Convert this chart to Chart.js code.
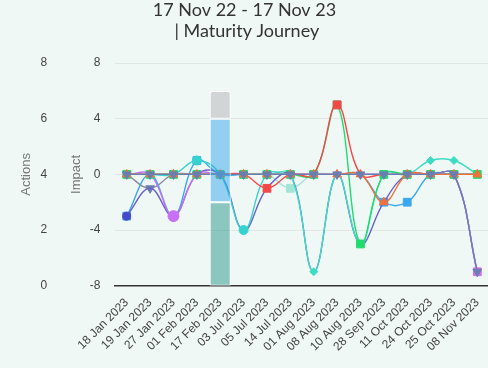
<!DOCTYPE html>
<html>
<head>
<meta charset="utf-8">
<script src="https://cdn.jsdelivr.net/npm/chart.js@4.4.0/dist/chart.umd.min.js"></script>
<style>
  html, body { margin: 0; padding: 0; background: #f0f8f6; overflow: hidden; }
  #wrap { width: 498px; height: 368px; }
</style>
</head>
<body>
<div id="wrap"><canvas id="journey"></canvas></div>
<script>
var labels = ['18 Jan 2023', '19 Jan 2023', '27 Jan 2023', '01 Feb 2023', '17 Feb 2023', '03 Jul 2023', '05 Jul 2023', '14 Jul 2023',
  '01 Aug 2023', '08 Aug 2023', '10 Aug 2023', '28 Sep 2023', '11 Oct 2023', '24 Oct 2023', '25 Oct 2023', '08 Nov 2023'];

// actions (stacked bar, left outer axis)
var actionsDone    = [null, null, null, null, 3, null, null, null, null, null, null, null, null, null, null, null];
var actionsOpen    = [null, null, null, null, 3, null, null, null, null, null, null, null, null, null, null, null];
var actionsPending = [null, null, null, null, 1, null, null, null, null, null, null, null, null, null, null, null];

// impact lines
var impactSlate   = [0, 0, 0, 0, 0, 0, 0, 0, 0, 0, 0, 0, 0, 0, 0, -7];
var impactOrange  = [0, 0, 0, 0, 0, 0, 0, 0, 0, 0, 0, -2, 0, 0, 0, 0];
var impactRed     = [0, 0, 0, 0, 0, 0, -1, 0, 0, 5, 0, 0, 0, 0, 0, 0];
var impactGreen   = [0, 0, 0, 0, 0, 0, 0, 0, 0, 5, -5, 0, 0, 0, 0, 0];
var impactMagenta = [0, 0, 0, 0, 0, 0, 0, 0, 0, 0, 0, 0, 0, 0, 0, -7];
var impactPurple  = [0, 0, -3, 0, 0, 0, 0, 0, 0, 0, 0, 0, 0, 0, 0, 0];
var impactCyan    = [0, 0, 0, 1, 0, -4, 0, 0, 0, 0, 0, 0, 0, 0, 0, 0];
var impactTeal    = [0, 0, 0, 0, 0, 0, 0, 0, -7, 0, -5, 0, 0, 1, 1, 0];
var impactIndigo  = [-3, -1, -3, 0, 0, -4, -1, 0, -7, 0, -5, -2, 0, 0, 0, -7];
var impactBlue    = [-3, 0, -3, 1, 0, 0, 0, 0, 0, 0, 0, -2, -2, 0, 0, 0];
var impactMint    = [0, 0, 0, 0, 0, 0, 0, -1, 0, 0, 0, 0, 0, 0, 0, 0];
var impactGray    = [0, -1, 0, 0, 0, 0, 0, 0, 0, 0, 0, 0, 0, 0, 0, 0];

function hideZero(r) {
  return function (ctx) { return ctx.raw === 0 ? 0 : r; };
}

function lineSet(name, data, color, style, radius, extra) {
  var ds = {
    type: 'line', label: name, data: data, yAxisID: 'impact',
    borderColor: color, backgroundColor: color, pointBackgroundColor: color, pointBorderColor: color,
    borderWidth: 1.4, tension: 0.4, pointStyle: style, pointRadius: radius, pointBorderWidth: 1, order: 1
  };
  for (var k in extra) ds[k] = extra[k];
  return ds;
}

function barSet(name, data, color, extra) {
  var ds = {
    type: 'bar', label: name, data: data, yAxisID: 'actions', stack: 'actions',
    backgroundColor: color, borderColor: '#ffffff', borderWidth: 1, borderSkipped: false,
    barPercentage: 0.9, categoryPercentage: 1, order: 0
  };
  for (var k in extra) ds[k] = extra[k];
  return ds;
}

var dataJourney = {
  labels: labels,
  datasets: [
    barSet('Done', actionsDone, 'rgba(40,150,135,0.5)'),
    barSet('Open', actionsOpen, 'rgba(54,165,235,0.5)'),
    barSet('Pending', actionsPending, 'rgba(190,190,192,0.6)', { borderRadius: { topLeft: 3, topRight: 3 } }),
    lineSet('Slate', impactSlate, '#6b7eb1', 'triangle', 5, { rotation: 180 }),
    lineSet('Orange', impactOrange, '#f2703a', 'triangle', 5),
    lineSet('Red', impactRed, '#f44848', 'rect', hideZero(5.5)),
    lineSet('Green', impactGreen, '#1fdc6e', 'rect', 5.5),
    lineSet('Magenta', impactMagenta, '#d66cf2', 'rect', hideZero(5.5)),
    lineSet('Purple', impactPurple, '#c870f5', 'circle', hideZero(5.5)),
    lineSet('Cyan', impactCyan, '#35d2d0', 'circle', hideZero(4.5)),
    lineSet('Teal', impactTeal, '#3fdcc4', 'rectRot', hideZero(4)),
    lineSet('Indigo', impactIndigo, '#6a62cc', 'circle', function (ctx) { return ctx.dataIndex === 0 ? 4 : 0; },
      { pointBackgroundColor: '#4549c9', pointBorderColor: '#4549c9' }),
    lineSet('Blue', impactBlue, '#3aa8f0', 'rect', hideZero(5.5)),
    lineSet('Mint', impactMint, '#a3e4d6', 'rect', hideZero(5.5)),
    lineSet('Gray', impactGray, '#8a8d98', 'triangle', hideZero(5), { rotation: 180, pointBackgroundColor: '#6b7eb1', pointBorderColor: '#6b7eb1' })
  ]
};

var tickFont = { family: "'Liberation Sans', Arial, sans-serif", size: 12 };
var axisTitleFont = { family: "'Liberation Sans', Arial, sans-serif", size: 13 };

var optionsJourney = {
  responsive: true,
  maintainAspectRatio: false,
  animation: false,
  layout: { padding: { left: 0, right: 9, top: 0, bottom: 12 } },
  plugins: {
    legend: { display: false },
    tooltip: { enabled: false },
    title: {
      display: true,
      text: ['17 Nov 22 - 17 Nov 23', ' | Maturity Journey'],
      color: '#333333',
      font: { family: "Lato, 'Open Sans', sans-serif", size: 18, weight: 'normal', lineHeight: 1.17 },
      padding: { top: 0, bottom: 21 }
    }
  },
  scales: {
    x: {
      stacked: true,
      grid: { display: false },
      border: { color: '#333333', width: 1.5 },
      ticks: { color: '#444444', font: tickFont, minRotation: 45, maxRotation: 45, padding: 2, autoSkip: false }
    },
    actions: {
      type: 'linear', position: 'left', weight: 1, stacked: true,
      min: 0, max: 8,
      ticks: { stepSize: 2, color: '#444444', font: tickFont, padding: 5 },
      grid: { display: false, drawTicks: false },
      border: { display: false },
      title: { display: true, text: 'Actions', color: '#777777', font: axisTitleFont, padding: { top: 19, bottom: 1 } }
    },
    impact: {
      type: 'linear', position: 'left', weight: 0,
      min: -8, max: 8,
      ticks: { stepSize: 4, color: '#444444', font: tickFont, padding: 4 },
      grid: { color: '#e3e6e6', drawTicks: true, tickLength: 10.5, tickColor: 'rgba(0,0,0,0)' },
      border: { display: false },
      title: { display: true, text: 'Impact', color: '#777777', font: axisTitleFont, padding: { top: 16, bottom: 2 } }
    }
  }
};

var ChartIDjourney = document.getElementById('journey').getContext('2d');
var ChartforJourney = new Chart(ChartIDjourney, { data: dataJourney, options: optionsJourney });
</script>
</body>
</html>
